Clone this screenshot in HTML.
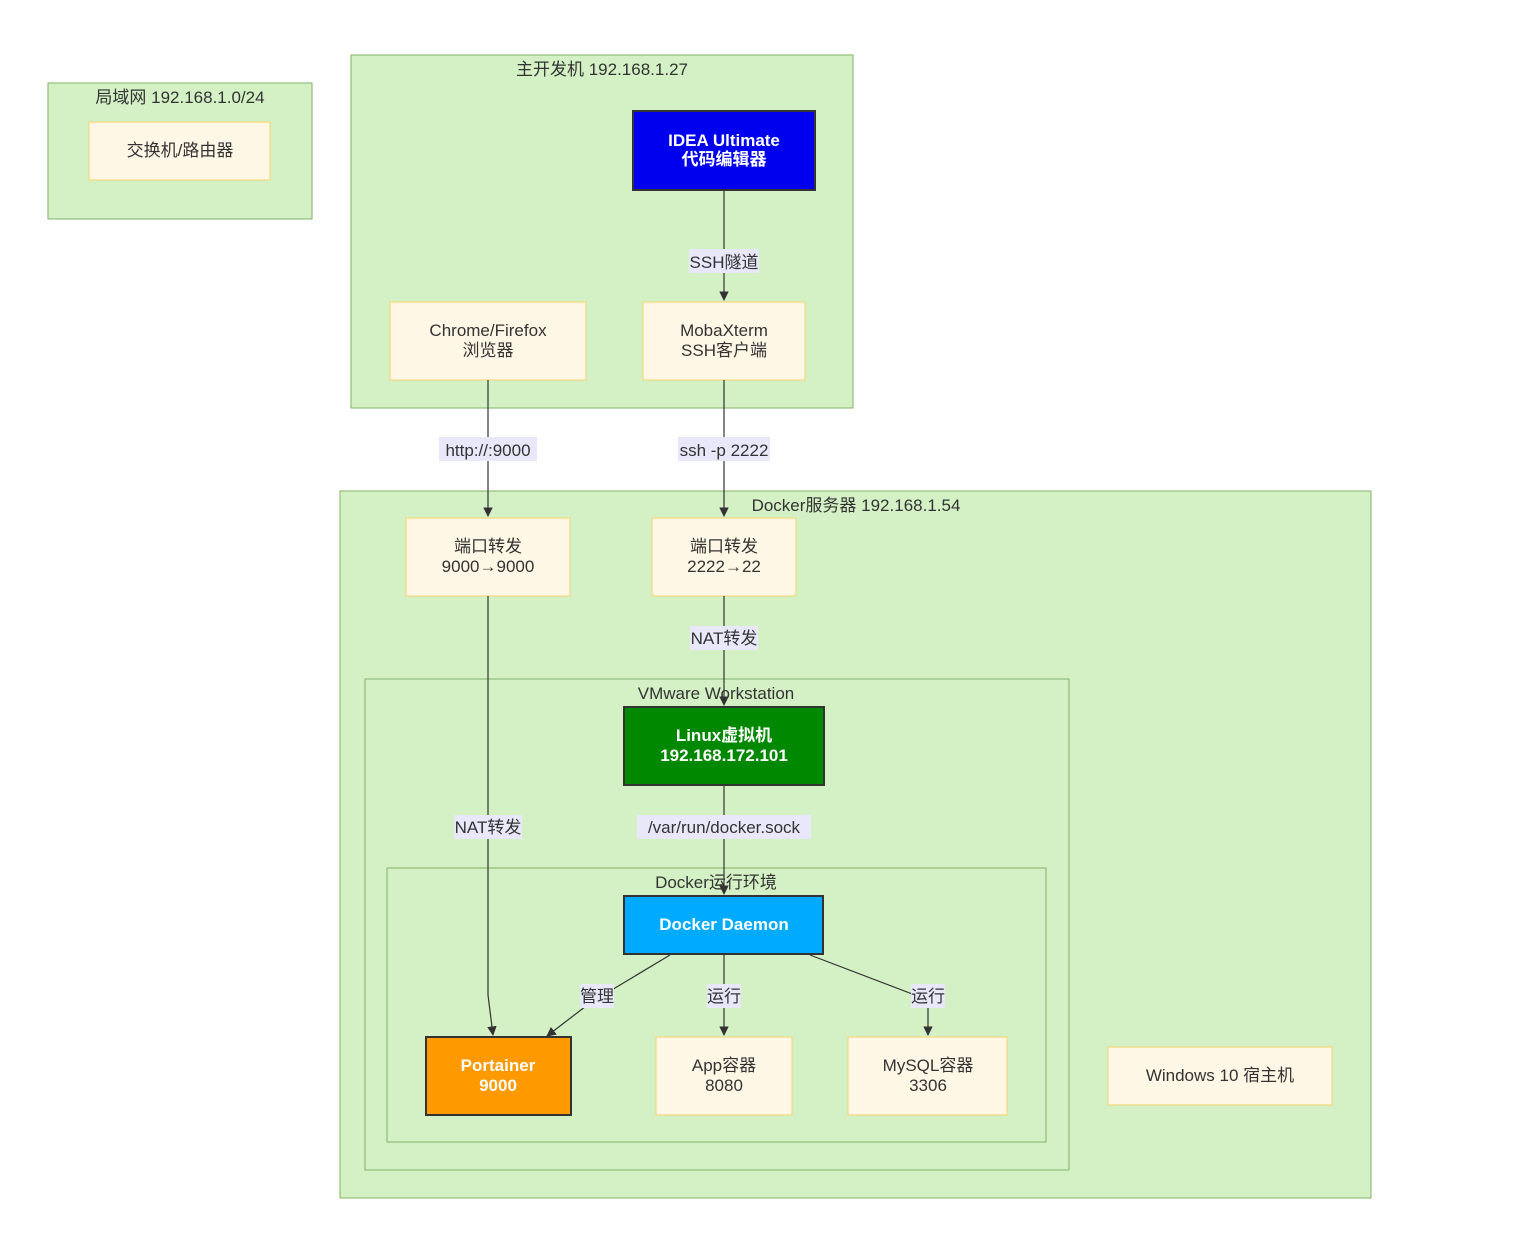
<!DOCTYPE html>
<html><head><meta charset="utf-8"><style>
body{margin:0;background:#fff}
svg text{font-family:"Liberation Sans","Noto Sans CJK SC",sans-serif;font-size:17px;fill:#333;text-anchor:middle}
.c{fill:#d4f1c5;stroke:#82b366;stroke-width:1}
.n{fill:#fff7e6;stroke:#f5d36b;stroke-width:1}
.e{stroke:#333;stroke-width:1.2;fill:none;marker-end:url(#a)}
.lb{fill:#e8e8fa}
.w{fill:#fff;font-weight:bold}
</style></head><body>
<svg width="1519" height="1240" xmlns="http://www.w3.org/2000/svg">
<defs><marker id="a" viewBox="0 0 10 10" refX="9" refY="5" markerWidth="8" markerHeight="8" orient="auto"><path d="M0,0L10,5L0,10z" fill="#333"/></marker></defs>
<rect class="c" x="48" y="83" width="264" height="136"/>
<text x="180" y="103">局域网 192.168.1.0/24</text>
<rect class="n" x="89" y="122" width="181" height="58"/>
<text x="180" y="156">交换机/路由器</text>

<rect class="c" x="351" y="55" width="502" height="353"/>
<text x="602" y="75">主开发机 192.168.1.27</text>
<rect x="633" y="111" width="182" height="79" fill="#0000ee" stroke="#333" stroke-width="2"/>
<text class="w" x="724" y="146">IDEA Ultimate</text>
<text class="w" x="724" y="165">代码编辑器</text>
<rect class="n" x="390" y="302" width="196" height="78"/>
<text x="488" y="336">Chrome/Firefox</text><text x="488" y="356">浏览器</text>
<rect class="n" x="643" y="302" width="162" height="78"/>
<text x="724" y="336">MobaXterm</text><text x="724" y="356">SSH客户端</text>

<rect class="c" x="340" y="491" width="1031" height="707"/>
<text x="856" y="511">Docker服务器 192.168.1.54</text>
<rect class="n" x="406" y="518" width="164" height="78"/>
<text x="488" y="552">端口转发</text><text x="488" y="572">9000→9000</text>
<rect class="n" x="652" y="518" width="144" height="78"/>
<text x="724" y="552">端口转发</text><text x="724" y="572">2222→22</text>
<rect class="n" x="1108" y="1047" width="224" height="58"/>
<text x="1220" y="1081">Windows 10 宿主机</text>

<rect class="c" x="365" y="679" width="704" height="491"/>
<text x="716" y="699">VMware Workstation</text>
<rect x="624" y="707" width="200" height="78" fill="#008800" stroke="#333" stroke-width="2"/>
<text class="w" x="724" y="741">Linux虚拟机</text><text class="w" x="724" y="761">192.168.172.101</text>

<rect class="c" x="387" y="868" width="659" height="274"/>
<text x="716" y="888">Docker运行环境</text>
<rect x="624" y="896" width="199" height="58" fill="#00aaff" stroke="#333" stroke-width="2"/>
<text class="w" x="724" y="930">Docker Daemon</text>
<rect x="426" y="1037" width="145" height="78" fill="#ff9900" stroke="#333" stroke-width="2"/>
<text class="w" x="498" y="1071">Portainer</text><text class="w" x="498" y="1091">9000</text>
<rect class="n" x="656" y="1037" width="136" height="78"/>
<text x="724" y="1071">App容器</text><text x="724" y="1091">8080</text>
<rect class="n" x="848" y="1037" width="159" height="78"/>
<text x="928" y="1071">MySQL容器</text><text x="928" y="1091">3306</text>

<path class="e" d="M724,190V300"/>
<path class="e" d="M488,380V516"/>
<path class="e" d="M724,380V516"/>
<path class="e" d="M724,596V705"/>
<path class="e" d="M724,785V894"/>
<path class="e" d="M488,596V995L493,1035"/>
<path class="e" d="M670,955L590,1003L547,1036"/>
<path class="e" d="M724,954V1035"/>
<path class="e" d="M810,955L928,1000V1035"/>

<rect class="lb" x="689" y="249" width="70" height="24"/><text x="724" y="268">SSH隧道</text>
<rect class="lb" x="439" y="437" width="98" height="24"/><text x="488" y="456">http://:9000</text>
<rect class="lb" x="678" y="437" width="92" height="24"/><text x="724" y="456">ssh -p 2222</text>
<rect class="lb" x="690" y="626" width="68" height="24"/><text x="724" y="644">NAT转发</text>
<rect class="lb" x="454" y="815" width="68" height="24"/><text x="488" y="833">NAT转发</text>
<rect class="lb" x="637" y="815" width="174" height="24"/><text x="724" y="833">/var/run/docker.sock</text>
<rect class="lb" x="580" y="984" width="34" height="24"/><text x="597" y="1002">管理</text>
<rect class="lb" x="707" y="984" width="34" height="24"/><text x="724" y="1002">运行</text>
<rect class="lb" x="911" y="984" width="34" height="24"/><text x="928" y="1002">运行</text>
</svg>
</body></html>
